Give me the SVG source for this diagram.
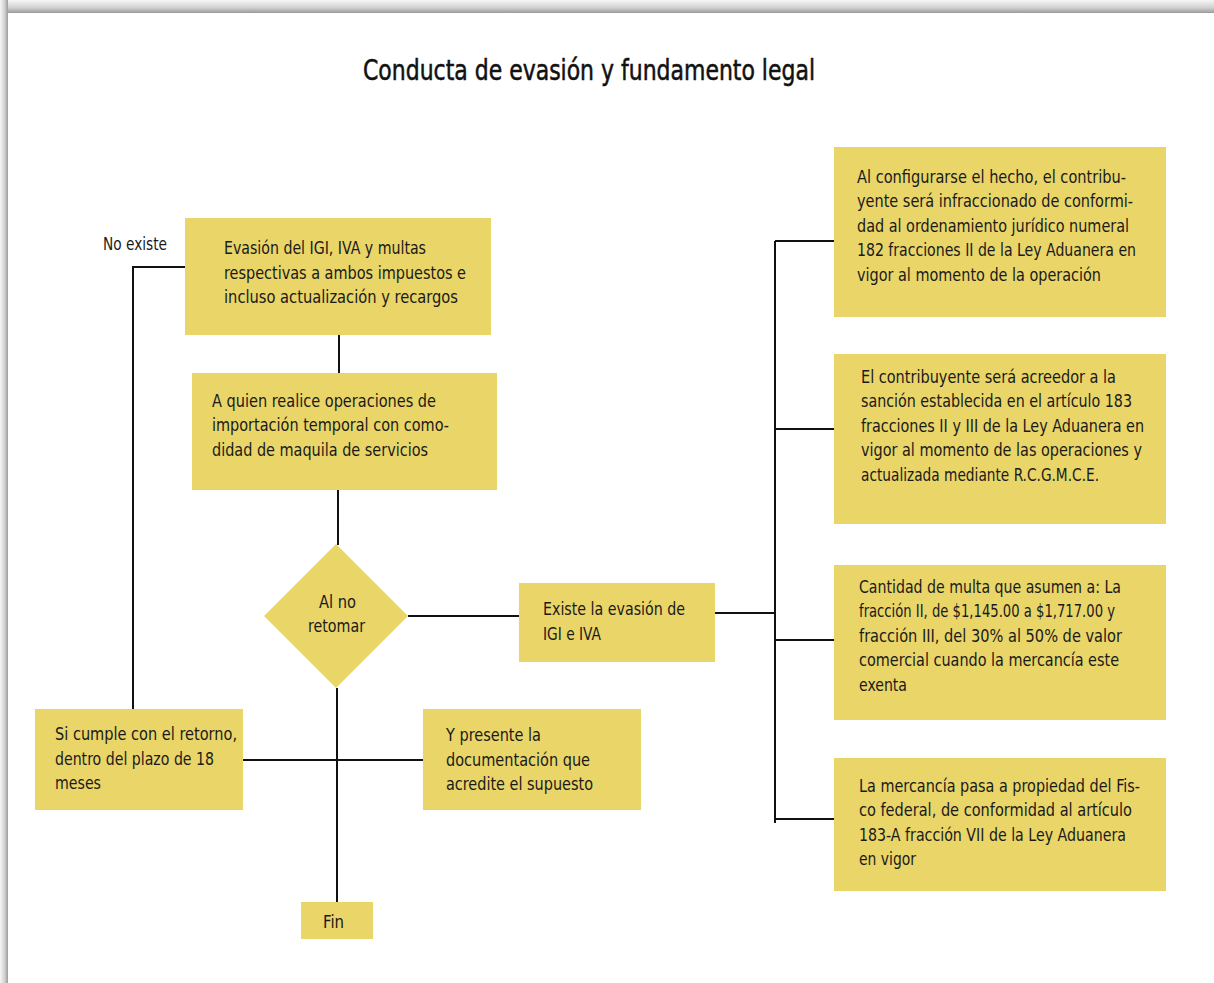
<svg xmlns="http://www.w3.org/2000/svg" width="1214" height="983" viewBox="0 0 1214 983">
<defs>
<linearGradient id="gt" x1="0" y1="0" x2="0" y2="1"><stop offset="0" stop-color="#f6f6f6"/><stop offset="0.6" stop-color="#d0d0d0"/><stop offset="1" stop-color="#9a9a9a"/></linearGradient>
<linearGradient id="gl" x1="0" y1="0" x2="1" y2="0"><stop offset="0" stop-color="#f6f6f6"/><stop offset="0.6" stop-color="#d0d0d0"/><stop offset="1" stop-color="#9a9a9a"/></linearGradient>
<style>
.b{fill:#e9d568}
.t{font-family:"DejaVu Sans Condensed","Liberation Sans Narrow","Liberation Sans",sans-serif;font-size:18.5px;fill:#1a1a1a}
.h{font-family:"DejaVu Sans Condensed","Liberation Sans Narrow","Liberation Sans",sans-serif;font-size:28px;fill:#111;stroke:#111;stroke-width:0.5}
.c{stroke:#111;stroke-width:2;fill:none}
</style>
</defs>
<rect x="0" y="0" width="1214" height="983" fill="#fff"/>
<rect x="0" y="0" width="1214" height="13" fill="url(#gt)"/>
<rect x="0" y="0" width="8" height="983" fill="url(#gl)"/>
<rect x="8" y="13" width="1206" height="970" rx="3" fill="#fff"/>
<g id="title"><text class="h" x="363" y="80" textLength="452" lengthAdjust="spacingAndGlyphs">Conducta de evasión y fundamento legal</text></g>
<g id="connectors" class="c">
<path d="M185 267H133V713"/>
<path d="M339 335V373"/>
<path d="M338 490V545"/>
<path d="M408 616H519"/>
<path d="M713 613H775"/>
<path d="M775 241V823"/>
<path d="M775 241H835M775 429H835M775 640H835M775 819H835"/>
<path d="M337 688V902"/>
<path d="M241 760H424"/>
</g>
<g id="noexiste"><text class="t" x="103" y="250" textLength="64" lengthAdjust="spacingAndGlyphs">No existe</text></g>
<g id="n1"><rect class="b" x="185" y="218" width="306" height="117"/>
<text class="t" x="224" y="254" textLength="202" lengthAdjust="spacingAndGlyphs">Evasión del IGI, IVA y multas</text>
<text class="t" x="224" y="279" textLength="242" lengthAdjust="spacingAndGlyphs">respectivas a ambos impuestos e</text>
<text class="t" x="224" y="303" textLength="234" lengthAdjust="spacingAndGlyphs">incluso actualización y recargos</text></g>
<g id="n2"><rect class="b" x="192" y="373" width="305" height="117"/>
<text class="t" x="212" y="407" textLength="224" lengthAdjust="spacingAndGlyphs">A quien realice operaciones de</text>
<text class="t" x="212" y="431" textLength="237" lengthAdjust="spacingAndGlyphs">importación temporal con como-</text>
<text class="t" x="212" y="456" textLength="216" lengthAdjust="spacingAndGlyphs">didad de maquila de servicios</text></g>
<g id="d1"><polygon class="b" points="336,544 408,616 336,688 264,616"/>
<text class="t" x="319" y="608" textLength="37" lengthAdjust="spacingAndGlyphs">Al no</text>
<text class="t" x="308" y="632" textLength="57" lengthAdjust="spacingAndGlyphs">retomar</text></g>
<g id="n3"><rect class="b" x="519" y="583" width="196" height="79"/>
<text class="t" x="543" y="615" textLength="142" lengthAdjust="spacingAndGlyphs">Existe la evasión de</text>
<text class="t" x="543" y="640" textLength="58" lengthAdjust="spacingAndGlyphs">IGI e IVA</text></g>
<g id="r1"><rect class="b" x="834" y="147" width="332" height="170"/>
<text class="t" x="857" y="183" textLength="269" lengthAdjust="spacingAndGlyphs">Al configurarse el hecho, el contribu-</text>
<text class="t" x="857" y="207" textLength="276" lengthAdjust="spacingAndGlyphs">yente será infraccionado de conformi-</text>
<text class="t" x="857" y="232" textLength="272" lengthAdjust="spacingAndGlyphs">dad al ordenamiento jurídico numeral</text>
<text class="t" x="857" y="256" textLength="279" lengthAdjust="spacingAndGlyphs">182 fracciones II de la Ley Aduanera en</text>
<text class="t" x="857" y="281" textLength="244" lengthAdjust="spacingAndGlyphs">vigor al momento de la operación</text></g>
<g id="r2"><rect class="b" x="834" y="354" width="332" height="170"/>
<text class="t" x="861" y="383" textLength="255" lengthAdjust="spacingAndGlyphs">El contribuyente será acreedor a la</text>
<text class="t" x="861" y="407" textLength="271" lengthAdjust="spacingAndGlyphs">sanción establecida en el artículo 183</text>
<text class="t" x="861" y="432" textLength="283" lengthAdjust="spacingAndGlyphs">fracciones II y III de la Ley Aduanera en</text>
<text class="t" x="861" y="456" textLength="281" lengthAdjust="spacingAndGlyphs">vigor al momento de las operaciones y</text>
<text class="t" x="861" y="481" textLength="238" lengthAdjust="spacingAndGlyphs">actualizada mediante R.C.G.M.C.E.</text></g>
<g id="r3"><rect class="b" x="834" y="565" width="332" height="155"/>
<text class="t" x="859" y="593" textLength="262" lengthAdjust="spacingAndGlyphs">Cantidad de multa que asumen a: La</text>
<text class="t" x="859" y="617" textLength="256" lengthAdjust="spacingAndGlyphs">fracción II, de $1,145.00 a $1,717.00 y</text>
<text class="t" x="859" y="642" textLength="263" lengthAdjust="spacingAndGlyphs">fracción III, del 30% al 50% de valor</text>
<text class="t" x="859" y="666" textLength="260" lengthAdjust="spacingAndGlyphs">comercial cuando la mercancía este</text>
<text class="t" x="859" y="691" textLength="48" lengthAdjust="spacingAndGlyphs">exenta</text></g>
<g id="r4"><rect class="b" x="834" y="758" width="332" height="133"/>
<text class="t" x="859" y="792" textLength="281" lengthAdjust="spacingAndGlyphs">La mercancía pasa a propiedad del Fis-</text>
<text class="t" x="859" y="816" textLength="273" lengthAdjust="spacingAndGlyphs">co federal, de conformidad al artículo</text>
<text class="t" x="859" y="841" textLength="267" lengthAdjust="spacingAndGlyphs">183-A fracción VII de la Ley Aduanera</text>
<text class="t" x="859" y="865" textLength="57" lengthAdjust="spacingAndGlyphs">en vigor</text></g>
<g id="n4"><rect class="b" x="35" y="709" width="208" height="101"/>
<text class="t" x="55" y="740" textLength="182" lengthAdjust="spacingAndGlyphs">Si cumple con el retorno,</text>
<text class="t" x="55" y="765" textLength="159" lengthAdjust="spacingAndGlyphs">dentro del plazo de 18</text>
<text class="t" x="55" y="789" textLength="46" lengthAdjust="spacingAndGlyphs">meses</text></g>
<g id="n5"><rect class="b" x="423" y="709" width="218" height="101"/>
<text class="t" x="446" y="741" textLength="95" lengthAdjust="spacingAndGlyphs">Y presente la</text>
<text class="t" x="446" y="766" textLength="144" lengthAdjust="spacingAndGlyphs">documentación que</text>
<text class="t" x="446" y="790" textLength="147" lengthAdjust="spacingAndGlyphs">acredite el supuesto</text></g>
<g id="fin"><rect class="b" x="301" y="902" width="72" height="37"/>
<text class="t" x="323" y="928" textLength="21" lengthAdjust="spacingAndGlyphs">Fin</text></g>
</svg>
